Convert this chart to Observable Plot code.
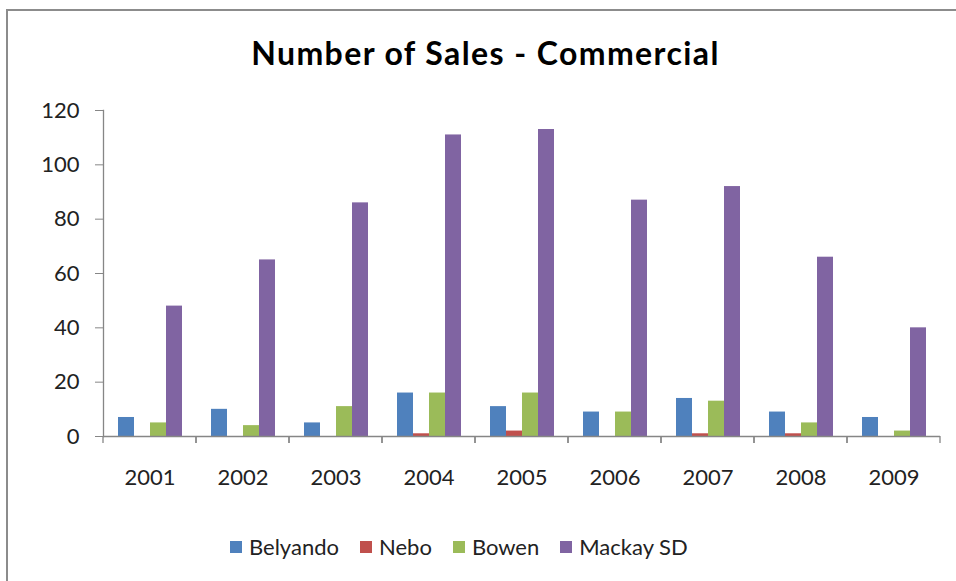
<!DOCTYPE html>
<html>
<head>
<meta charset="utf-8">
<script src="https://cdn.jsdelivr.net/npm/d3@7"></script>
<script src="https://cdn.jsdelivr.net/npm/@observablehq/plot@0.6"></script>
<style>
  body { margin: 0; background: #fff; }
  #wrap { position: relative; width: 956px; height: 581px; overflow: hidden; font-family: Lato, "Open Sans", sans-serif; color: #222; }
  #border { position: absolute; left: 6px; top: 9px; width: 1000px; height: 1000px; border-top: 2px solid #8c8c8c; border-left: 2px solid #8c8c8c; }
  #title { position: absolute; top: 34px; left: 0; width: 971px; text-align: center; font-weight: bold; font-size: 32px; letter-spacing: 1.4px; line-height: 1.2; color: #000; }
  #chart { position: absolute; left: 0; top: 80px; }
  #legend { position: absolute; left: 230px; top: 532px; display: flex; align-items: center; font-size: 22px; line-height: 30px; }
  .item { display: flex; align-items: center; margin-right: 21px; }
  .sw { width: 12px; height: 12px; margin-right: 7px; }
</style>
</head>
<body>
<div id="wrap">
  <div id="border"></div>
  <div id="title">Number of Sales - Commercial</div>
  <div id="chart"></div>
  <div id="legend"></div>
</div>
<script>
const years = ["2001", "2002", "2003", "2004", "2005", "2006", "2007", "2008", "2009"];
const seriesNames = ["Belyando", "Nebo", "Bowen", "Mackay SD"];
const belyando = [7, 10, 5, 16, 11, 9, 14, 9, 7];
const nebo = [0, 0, 0, 1, 2, 0, 1, 1, 0];
const bowen = [5, 4, 11, 16, 16, 9, 13, 5, 2];
const mackay = [48, 65, 86, 111, 113, 87, 92, 66, 40];
const yTicks = [0, 20, 40, 60, 80, 100, 120];
const colors = ["#4F81BD", "#C0504D", "#9BBB59", "#8064A2"];

const seriesValues = [belyando, nebo, bowen, mackay];
const data = [];
years.forEach((yr, i) => {
  seriesNames.forEach((s, j) => data.push({year: yr, series: s, value: seriesValues[j][i]}));
});

const axisColor = "#868686";

// tick marks at category boundaries (Excel style), drawn per facet using the facet's own dimensions
const boundaryTicks = (index, scales, values, dimensions) => {
  const g = d3.create("svg:g").attr("stroke", axisColor).attr("stroke-width", 1.3);
  const y0 = scales.y(0);
  const left = dimensions.marginLeft;
  const right = dimensions.width - dimensions.marginRight;
  for (const x of [left, right]) {
    g.append("line").attr("x1", x).attr("x2", x).attr("y1", y0).attr("y2", y0 + 7);
  }
  return g.node();
};

const chart = Plot.plot({
  width: 956,
  height: 440,
  marginTop: 30,
  marginBottom: 84,
  marginLeft: 102,
  marginRight: 16,
  style: {fontFamily: "Lato, 'Open Sans', sans-serif", fontSize: "22px", color: "#222", background: "transparent"},
  fx: {domain: years, padding: 0, label: null},
  x: {domain: seriesNames, paddingInner: 0, paddingOuter: 0.79, axis: null},
  y: {domain: [0, 120], axis: null},
  color: {domain: seriesNames, range: colors},
  marks: [
    Plot.barY(data, {fx: "year", x: "series", y: "value", fill: "series"}),
    Plot.ruleY([0], {stroke: axisColor, strokeWidth: 1.3}),
    Plot.frame({anchor: "left", facetAnchor: "left", stroke: axisColor, strokeWidth: 1.3}),
    Plot.axisY(yTicks, {anchor: "left", tickSize: 8, tickPadding: 16, stroke: axisColor, fontSize: 22, fill: "#222", label: null}),
    Plot.axisFx({anchor: "bottom", tickSize: 0, tickPadding: 33, fontSize: 22, fill: "#222", label: null}),
    boundaryTicks
  ]
});
document.getElementById("chart").appendChild(chart);

const legend = document.getElementById("legend");
seriesNames.forEach((s, i) => {
  const item = document.createElement("div");
  item.className = "item";
  const sw = document.createElement("div");
  sw.className = "sw";
  sw.style.background = colors[i];
  const t = document.createElement("span");
  t.textContent = s;
  item.appendChild(sw);
  item.appendChild(t);
  legend.appendChild(item);
});
</script>
</body>
</html>
